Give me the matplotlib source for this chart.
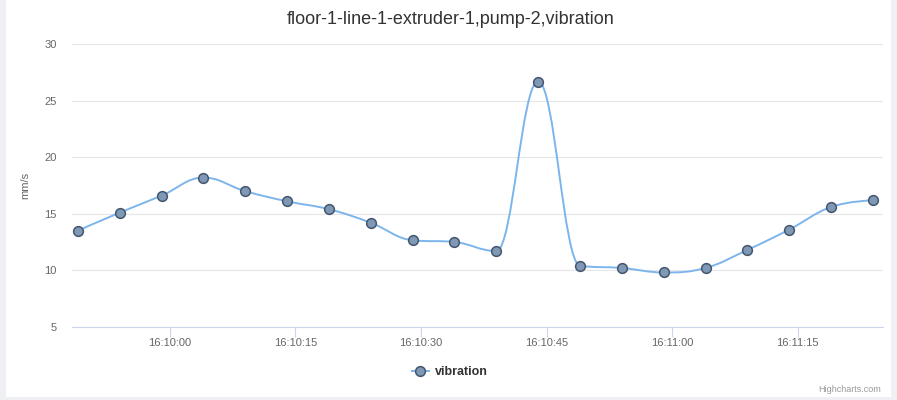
import matplotlib
matplotlib.use("Agg")
import matplotlib.pyplot as plt
import matplotlib.dates as mdates
from matplotlib.path import Path
from matplotlib.patches import PathPatch, Rectangle
from matplotlib.lines import Line2D
import pandas as pd

# ---- data ----
title = "floor-1-line-1-extruder-1,pump-2,vibration"
series_name = "vibration"
y_label = "mm/s"
times = ["16:09:49", "16:09:54", "16:09:59", "16:10:04", "16:10:09",
         "16:10:14", "16:10:19", "16:10:24", "16:10:29", "16:10:34",
         "16:10:39", "16:10:44", "16:10:49", "16:10:54", "16:10:59",
         "16:11:04", "16:11:09", "16:11:14", "16:11:19", "16:11:24"]
values = [13.5, 15.1, 16.6, 18.2, 17.0, 16.1, 15.4, 14.2, 12.65, 12.5,
          11.7, 26.7, 10.4, 10.2, 9.8, 10.2, 11.8, 13.6, 15.6, 16.2]
x_ticks = ["16:10:00", "16:10:15", "16:10:30", "16:10:45", "16:11:00", "16:11:15"]
y_ticks = [5, 10, 15, 20, 25, 30]

DAY = "2020-01-01 "
xs = list(mdates.date2num(pd.to_datetime([DAY + t for t in times])))
ys = list(values)

plt.rcParams["font.family"] = ["Liberation Sans", "DejaVu Sans"]

W, H = 897, 400
fig = plt.figure(figsize=(W / 100, H / 100), dpi=100)
fig.patch.set_facecolor("#eef0f3")
fig.patches.append(Rectangle((6 / W, 3 / H), (891 - 6) / W, (400 - 3) / H,
                             transform=fig.transFigure, facecolor="white",
                             edgecolor="none", zorder=-10))

left, right, top, bottom = 72, 883, 44.3, 326.7
ax = fig.add_axes([left / W, (H - bottom) / H, (right - left) / W, (bottom - top) / H])
ax.set_facecolor("none")

# Highcharts-style spline
smoothing = 1.5
denom = smoothing + 1
verts = [(xs[0], ys[0])]
codes = [Path.MOVETO]
rc = {}
n = len(xs)
for i in range(1, n):
    px, py = xs[i], ys[i]
    lx, ly = xs[i - 1], ys[i - 1]
    lcx, lcy = px, py
    if i < n - 1:
        nx, ny = xs[i + 1], ys[i + 1]
        lcx = (smoothing * px + lx) / denom
        lcy = (smoothing * py + ly) / denom
        rcx = (smoothing * px + nx) / denom
        rcy = (smoothing * py + ny) / denom
        if rcx != lcx:
            corr = ((rcy - lcy) * (rcx - px)) / (rcx - lcx) + py - rcy
            lcy += corr
            rcy += corr
        if lcy > ly and lcy > py:
            lcy = max(ly, py)
            rcy = 2 * py - lcy
        elif lcy < ly and lcy < py:
            lcy = min(ly, py)
            rcy = 2 * py - lcy
        if rcy > ny and rcy > py:
            rcy = max(ny, py)
            lcy = 2 * py - rcy
        elif rcy < ny and rcy < py:
            rcy = min(ny, py)
            lcy = 2 * py - rcy
        rc[i] = (rcx, rcy)
    prev_rc = rc.get(i - 1, (lx, ly))
    verts += [prev_rc, (lcx, lcy), (px, py)]
    codes += [Path.CURVE4, Path.CURVE4, Path.CURVE4]

line_color = "#7cb5ec"
ax.add_patch(PathPatch(Path(verts, codes), facecolor="none", edgecolor=line_color,
                       lw=1.4, zorder=3))
ax.plot(xs, ys, linestyle="none", marker="o", markersize=7,
        markerfacecolor="#7f98b6", markeredgecolor="#44566e",
        markeredgewidth=1.1, zorder=4)

# axes
xmin = mdates.date2num(pd.Timestamp(DAY + "16:09:48.3"))
xmax = mdates.date2num(pd.Timestamp(DAY + "16:11:25.2"))
ax.set_xlim(xmin, xmax)
ax.set_ylim(5, 30)
ax.set_yticks(y_ticks)
ax.set_yticklabels([str(v) for v in y_ticks])
ax.set_xticks(list(mdates.date2num(pd.to_datetime([DAY + t for t in x_ticks]))))
ax.set_xticklabels(x_ticks)

for s in ["top", "right", "left"]:
    ax.spines[s].set_visible(False)
ax.spines["bottom"].set_color("#ccd6eb")
ax.spines["bottom"].set_linewidth(0.8)
ax.grid(axis="y", color="#e6e6e6", linewidth=0.8, zorder=0)
ax.set_axisbelow(True)
ax.tick_params(axis="y", length=0, pad=11, labelsize=8, labelcolor="#666666")
ax.tick_params(axis="x", length=7.2, width=0.8, color="#ccd6eb", direction="out",
               pad=1, labelsize=8, labelcolor="#666666")

ax.set_ylabel(y_label, fontsize=8, color="#666666")
ax.yaxis.set_label_coords((30 - left) / (right - left), 0.5)

fig.text(451 / W, 1 - 19 / H, title, ha="center", va="center",
         fontsize=13, color="#333333")

handle = Line2D([], [], color=line_color, lw=1.4, marker="o", markersize=7,
                markerfacecolor="#7f98b6", markeredgecolor="#44566e",
                markeredgewidth=1.1)
leg = fig.legend([handle], [series_name], loc="center",
                 bbox_to_anchor=(450 / W, 1 - 372 / H), frameon=False,
                 handlelength=1.4, handletextpad=0.5,
                 prop={"weight": "bold", "size": 9})
for t in leg.get_texts():
    t.set_color("#333333")

fig.text(881 / W, 1 - 390 / H, "Highcharts.com", ha="right", va="center",
         fontsize=6.5, color="#999999")

fig.savefig("out.png", dpi=100, facecolor=fig.get_facecolor())
